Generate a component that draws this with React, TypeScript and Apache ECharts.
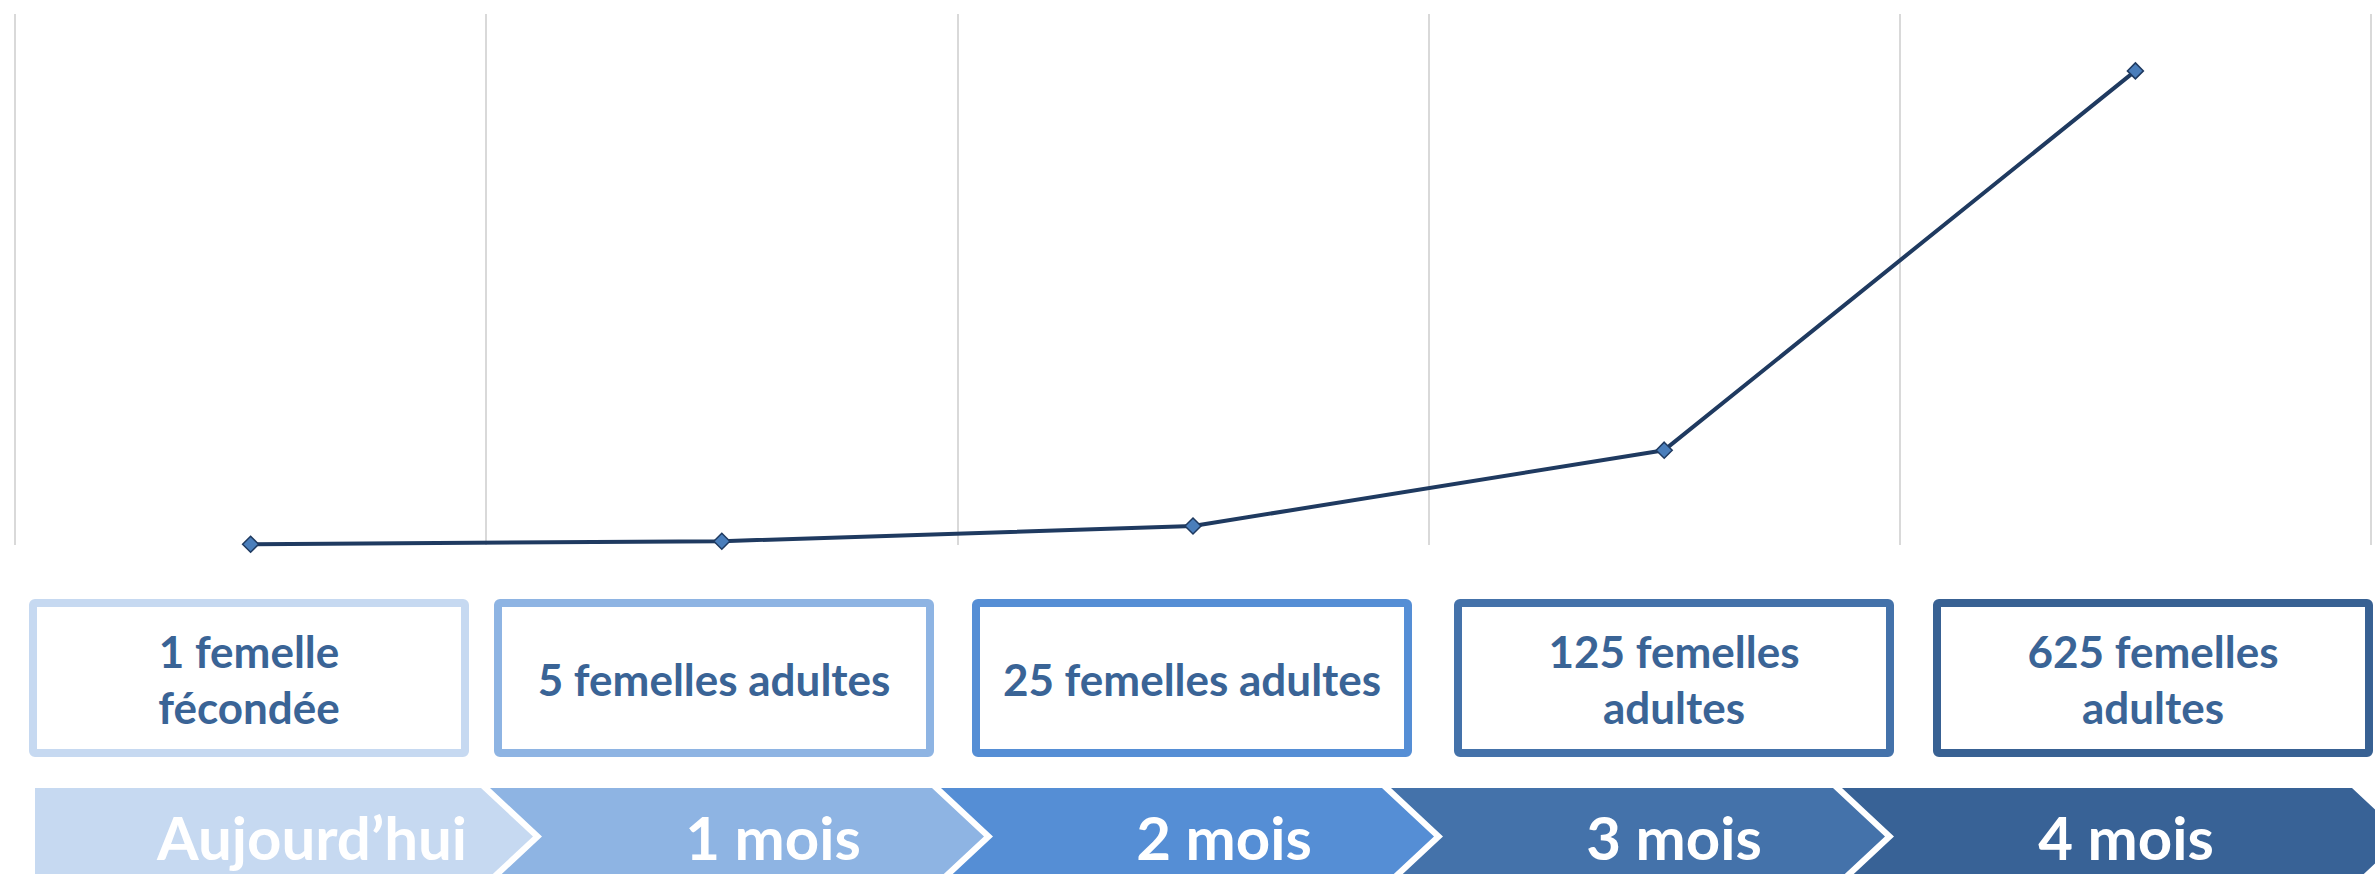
import React, { useEffect, useRef } from "react";
import * as echarts from "echarts";

// ---- data ----
const categories = ["Aujourd’hui", "1 mois", "2 mois", "3 mois", "4 mois"];
const femelles = [1, 5, 25, 125, 625];
const boxLabels = [
  "1 femelle\nfécondée",
  "5 femelles adultes",
  "25 femelles adultes",
  "125 femelles\nadultes",
  "625 femelles\nadultes",
];

// ---- styling / layout ----
const boxColors = ["#C6D9F1", "#8EB4E3", "#558ED5", "#4472AA", "#386193"];
const chevronColors = ["#C6D9F1", "#8EB4E3", "#558ED5", "#4472AA", "#386296"];
const boxLeft = [29, 494, 972, 1454, 1933];
const boxWidth = 440;
const boxTop = 599;
const boxHeight = 158;
const chevLeft = [35, 490, 941, 1391, 1842];
const chevRight = [481, 932, 1382, 1833, 2352];
const chevTextX = [312, 773, 1224, 1674, 2126];
const chevTop = 788;
const chevHalf = 48.5;
const chevDepth = 52;

export default function App() {
  const ref = useRef<HTMLDivElement>(null);

  useEffect(() => {
    if (!ref.current) return;
    const chart = echarts.init(ref.current, undefined, { renderer: "svg" });

    const graphics: any[] = [];
    boxLabels.forEach((label, i) => {
      graphics.push({
        type: "rect",
        shape: { x: boxLeft[i] + 4, y: boxTop + 4, width: boxWidth - 8, height: boxHeight - 8, r: 2 },
        style: { fill: "#ffffff", stroke: boxColors[i], lineWidth: 8 },
      });
      graphics.push({
        type: "text",
        style: {
          text: label,
          x: boxLeft[i] + boxWidth / 2,
          y: boxTop + boxHeight / 2 + 1,
          align: "center",
          verticalAlign: "middle",
          fontFamily: "Lato",
          fontWeight: "bold",
          fontSize: 44,
          lineHeight: 56,
          fill: "#3A6496",
        },
      });
    });
    categories.forEach((cat, i) => {
      const L = chevLeft[i];
      const R = chevRight[i];
      const mid = chevTop + chevHalf;
      const bot = chevTop + 2 * chevHalf;
      const pts =
        i === 0
          ? [[L, chevTop], [R, chevTop], [R + chevDepth, mid], [R, bot], [L, bot]]
          : [[L, chevTop], [R, chevTop], [R + chevDepth, mid], [R, bot], [L, bot], [L + chevDepth, mid]];
      graphics.push({
        type: "polygon",
        shape: { points: pts },
        style: { fill: chevronColors[i] },
      });
      graphics.push({
        type: "text",
        style: {
          text: cat,
          x: chevTextX[i],
          y: mid,
          align: "center",
          verticalAlign: "middle",
          fontFamily: "Lato",
          fontWeight: "bold",
          fontSize: 60,
          fill: "#ffffff",
        },
      });
    });

    chart.setOption({
      animation: false,
      grid: { left: 15, right: 4, top: 14, bottom: 329, containLabel: false },
      xAxis: {
        type: "category",
        data: categories,
        boundaryGap: true,
        axisLine: { show: false },
        axisTick: { show: false },
        axisLabel: { show: false },
        splitLine: { show: true, lineStyle: { color: "#D9D9D9", width: 2 } },
      },
      yAxis: {
        type: "value",
        min: 0,
        max: 700,
        axisLine: { show: false },
        axisTick: { show: false },
        axisLabel: { show: false },
        splitLine: { show: false },
      },
      series: [
        {
          type: "line",
          data: femelles,
          symbol: "diamond",
          symbolSize: 16,
          lineStyle: { color: "#1F3A60", width: 4 },
          itemStyle: { color: "#4A7EBB", borderColor: "#1F3A60", borderWidth: 1.5 },
          z: 3,
        },
      ],
      graphic: graphics,
    });

    return () => chart.dispose();
  }, []);

  return (
    <div
      ref={ref}
      style={{ position: "absolute", left: 0, top: 0, width: 2375, height: 874 }}
    />
  );
}
